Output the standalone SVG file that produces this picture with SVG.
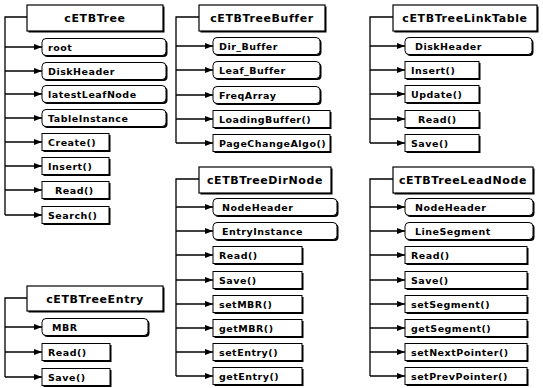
<svg xmlns="http://www.w3.org/2000/svg" width="543" height="388" viewBox="0 0 543 388">
<defs>
<marker id="ah" viewBox="0 0 8 6" refX="8" refY="3" markerWidth="8" markerHeight="6" markerUnits="userSpaceOnUse" orient="auto">
<path d="M0,0 L8,3 L0,6 Z" fill="#000"/>
</marker>
</defs>
<style>
.hd{fill:#fff;stroke:#000;stroke-width:1.2}
.hs{fill:#000}
.bx{fill:#fff;stroke:#000;stroke-width:1}
.sh{fill:#000}
.ht{font-family:"DejaVu Sans",sans-serif;font-weight:bold;font-size:11px;letter-spacing:0.6px;text-anchor:middle;fill:#000}
.ct{font-family:"DejaVu Sans",sans-serif;font-weight:bold;font-size:9.5px;letter-spacing:0.5px;fill:#000}
.cn{fill:none;stroke:#000;stroke-width:1.3}
.br{fill:none;stroke:#000;stroke-width:1.3;marker-end:url(#ah)}
</style>
<rect width="543" height="388" fill="#fff"/>
<g id="connectors">
<path class="cn" d="M27,17 H5 V215"/>
<path class="br" d="M5,47 H42"/><path class="br" d="M5,71 H42"/><path class="br" d="M5,94 H42"/><path class="br" d="M5,118 H42"/>
<path class="br" d="M5,142 H42"/><path class="br" d="M5,166 H42"/><path class="br" d="M5,190 H42"/><path class="br" d="M5,215 H42"/>
<path class="cn" d="M199,17 H176 V143"/>
<path class="br" d="M176,46 H213"/><path class="br" d="M176,70 H213"/><path class="br" d="M176,95 H213"/><path class="br" d="M176,119 H213"/><path class="br" d="M176,143 H213"/>
<path class="cn" d="M393,17 H370 V143"/>
<path class="br" d="M370,46 H405"/><path class="br" d="M370,70 H405"/><path class="br" d="M370,94 H405"/><path class="br" d="M370,119 H405"/><path class="br" d="M370,143 H405"/>
<path class="cn" d="M199,179 H176 V376"/>
<path class="br" d="M176,207 H213"/><path class="br" d="M176,231 H213"/><path class="br" d="M176,255 H213"/><path class="br" d="M176,280 H213"/>
<path class="br" d="M176,304 H213"/><path class="br" d="M176,328 H213"/><path class="br" d="M176,352 H213"/><path class="br" d="M176,376 H213"/>
<path class="cn" d="M393,179 H370 V376"/>
<path class="br" d="M370,207 H405"/><path class="br" d="M370,231 H405"/><path class="br" d="M370,255 H405"/><path class="br" d="M370,280 H405"/>
<path class="br" d="M370,304 H405"/><path class="br" d="M370,328 H405"/><path class="br" d="M370,352 H405"/><path class="br" d="M370,376 H405"/>
<path class="cn" d="M27,298 H5 V377"/>
<path class="br" d="M5,327 H42"/><path class="br" d="M5,352 H42"/><path class="br" d="M5,377 H42"/>
</g>
<g id="cETBTree">
<rect class="hs" x="28.5" y="6.5" width="136" height="26"/><rect class="hd" x="27" y="5" width="136" height="26"/>
<text class="ht" x="95" y="22">cETBTree</text>
</g>
<g id="cETBTree-root"><rect class="sh" x="43.5" y="40" width="124" height="17" rx="4"/><rect class="bx" x="42" y="38.5" width="124" height="17" rx="4"/><text class="ct" x="48" y="50.5">root</text></g>
<g id="cETBTree-DiskHeader"><rect class="sh" x="43.5" y="64" width="124" height="17" rx="4"/><rect class="bx" x="42" y="62.5" width="124" height="17" rx="4"/><text class="ct" x="48" y="74.5">DiskHeader</text></g>
<g id="cETBTree-latestLeafNode"><rect class="sh" x="43.5" y="87" width="124" height="17" rx="4"/><rect class="bx" x="42" y="85.5" width="124" height="17" rx="4"/><text class="ct" x="48" y="97.5">latestLeafNode</text></g>
<g id="cETBTree-TableInstance"><rect class="sh" x="43.5" y="111" width="124" height="17" rx="4"/><rect class="bx" x="42" y="109.5" width="124" height="17" rx="4"/><text class="ct" x="48" y="121.5">TableInstance</text></g>
<g id="cETBTree-Create"><rect class="sh" x="43.5" y="135" width="67" height="17"/><rect class="bx" x="42" y="133.5" width="67" height="17"/><text class="ct" x="48" y="145.5">Create()</text></g>
<g id="cETBTree-Insert"><rect class="sh" x="43.5" y="159" width="67" height="17"/><rect class="bx" x="42" y="157.5" width="67" height="17"/><text class="ct" x="48" y="169.5">Insert()</text></g>
<g id="cETBTree-Read"><rect class="sh" x="43.5" y="183" width="67" height="17"/><rect class="bx" x="42" y="181.5" width="67" height="17"/><text class="ct" x="55" y="193.5">Read()</text></g>
<g id="cETBTree-Search"><rect class="sh" x="43.5" y="208" width="67" height="17"/><rect class="bx" x="42" y="206.5" width="67" height="17"/><text class="ct" x="48" y="218.5">Search()</text></g>

<g id="cETBTreeBuffer">
<rect class="hs" x="200.5" y="6.5" width="126" height="26"/><rect class="hd" x="199" y="5" width="126" height="26"/>
<text class="ht" x="262" y="22">cETBTreeBuffer</text>
</g>
<g id="Buffer-Dir_Buffer"><rect class="sh" x="214.5" y="39" width="107" height="17" rx="4"/><rect class="bx" x="213" y="37.5" width="107" height="17" rx="4"/><text class="ct" x="219" y="49.5">Dir_Buffer</text></g>
<g id="Buffer-Leaf_Buffer"><rect class="sh" x="214.5" y="63" width="107" height="17" rx="4"/><rect class="bx" x="213" y="61.5" width="107" height="17" rx="4"/><text class="ct" x="219" y="73.5">Leaf_Buffer</text></g>
<g id="Buffer-FreqArray"><rect class="sh" x="214.5" y="88" width="107" height="17" rx="4"/><rect class="bx" x="213" y="86.5" width="107" height="17" rx="4"/><text class="ct" x="219" y="98.5">FreqArray</text></g>
<g id="Buffer-LoadingBuffer"><rect class="sh" x="214.5" y="112" width="117" height="17"/><rect class="bx" x="213" y="110.5" width="117" height="17"/><text class="ct" x="219" y="122.5">LoadingBuffer()</text></g>
<g id="Buffer-PageChangeAlgo"><rect class="sh" x="214.5" y="136" width="117" height="17"/><rect class="bx" x="213" y="134.5" width="117" height="17"/><text class="ct" x="219" y="146.5">PageChangeAlgo()</text></g>

<g id="cETBTreeLinkTable">
<rect class="hs" x="394.5" y="6.5" width="144" height="26"/><rect class="hd" x="393" y="5" width="144" height="26"/>
<text class="ht" x="465" y="22">cETBTreeLinkTable</text>
</g>
<g id="Link-DiskHeader"><rect class="sh" x="406.5" y="39" width="127" height="17" rx="4"/><rect class="bx" x="405" y="37.5" width="127" height="17" rx="4"/><text class="ct" x="415" y="49.5">DiskHeader</text></g>
<g id="Link-Insert"><rect class="sh" x="406.5" y="63" width="74" height="17"/><rect class="bx" x="405" y="61.5" width="74" height="17"/><text class="ct" x="411" y="73.5">Insert()</text></g>
<g id="Link-Update"><rect class="sh" x="406.5" y="87" width="74" height="17"/><rect class="bx" x="405" y="85.5" width="74" height="17"/><text class="ct" x="411" y="97.5">Update()</text></g>
<g id="Link-Read"><rect class="sh" x="406.5" y="112" width="74" height="17"/><rect class="bx" x="405" y="110.5" width="74" height="17"/><text class="ct" x="418" y="122.5">Read()</text></g>
<g id="Link-Save"><rect class="sh" x="406.5" y="136" width="74" height="17"/><rect class="bx" x="405" y="134.5" width="74" height="17"/><text class="ct" x="411" y="146.5">Save()</text></g>

<g id="cETBTreeDirNode">
<rect class="hs" x="200.5" y="168.5" width="132" height="26"/><rect class="hd" x="199" y="167" width="132" height="26"/>
<text class="ht" x="265" y="184">cETBTreeDirNode</text>
</g>
<g id="Dir-NodeHeader"><rect class="sh" x="214.5" y="200" width="124" height="17" rx="4"/><rect class="bx" x="213" y="198.5" width="124" height="17" rx="4"/><text class="ct" x="222" y="210.5">NodeHeader</text></g>
<g id="Dir-EntryInstance"><rect class="sh" x="214.5" y="224" width="124" height="17" rx="4"/><rect class="bx" x="213" y="222.5" width="124" height="17" rx="4"/><text class="ct" x="222" y="234.5">EntryInstance</text></g>
<g id="Dir-Read"><rect class="sh" x="214.5" y="248" width="89" height="17"/><rect class="bx" x="213" y="246.5" width="89" height="17"/><text class="ct" x="219" y="258.5">Read()</text></g>
<g id="Dir-Save"><rect class="sh" x="214.5" y="273" width="89" height="17"/><rect class="bx" x="213" y="271.5" width="89" height="17"/><text class="ct" x="219" y="283.5">Save()</text></g>
<g id="Dir-setMBR"><rect class="sh" x="214.5" y="297" width="89" height="17"/><rect class="bx" x="213" y="295.5" width="89" height="17"/><text class="ct" x="219" y="307.5">setMBR()</text></g>
<g id="Dir-getMBR"><rect class="sh" x="214.5" y="321" width="89" height="17"/><rect class="bx" x="213" y="319.5" width="89" height="17"/><text class="ct" x="219" y="331.5">getMBR()</text></g>
<g id="Dir-setEntry"><rect class="sh" x="214.5" y="345" width="89" height="17"/><rect class="bx" x="213" y="343.5" width="89" height="17"/><text class="ct" x="219" y="355.5">setEntry()</text></g>
<g id="Dir-getEntry"><rect class="sh" x="214.5" y="369" width="89" height="17"/><rect class="bx" x="213" y="367.5" width="89" height="17"/><text class="ct" x="219" y="379.5">getEntry()</text></g>

<g id="cETBTreeLeadNode">
<rect class="hs" x="394.5" y="168.5" width="140" height="26"/><rect class="hd" x="393" y="167" width="140" height="26"/>
<text class="ht" x="463" y="184">cETBTreeLeadNode</text>
</g>
<g id="Lead-NodeHeader"><rect class="sh" x="406.5" y="200" width="128" height="17" rx="4"/><rect class="bx" x="405" y="198.5" width="128" height="17" rx="4"/><text class="ct" x="415" y="210.5">NodeHeader</text></g>
<g id="Lead-LineSegment"><rect class="sh" x="406.5" y="224" width="128" height="17" rx="4"/><rect class="bx" x="405" y="222.5" width="128" height="17" rx="4"/><text class="ct" x="415" y="234.5">LineSegment</text></g>
<g id="Lead-Read"><rect class="sh" x="406.5" y="248" width="122" height="17"/><rect class="bx" x="405" y="246.5" width="122" height="17"/><text class="ct" x="411" y="258.5">Read()</text></g>
<g id="Lead-Save"><rect class="sh" x="406.5" y="273" width="122" height="17"/><rect class="bx" x="405" y="271.5" width="122" height="17"/><text class="ct" x="411" y="283.5">Save()</text></g>
<g id="Lead-setSegment"><rect class="sh" x="406.5" y="297" width="122" height="17"/><rect class="bx" x="405" y="295.5" width="122" height="17"/><text class="ct" x="411" y="307.5">setSegment()</text></g>
<g id="Lead-getSegment"><rect class="sh" x="406.5" y="321" width="122" height="17"/><rect class="bx" x="405" y="319.5" width="122" height="17"/><text class="ct" x="411" y="331.5">getSegment()</text></g>
<g id="Lead-setNextPointer"><rect class="sh" x="406.5" y="345" width="122" height="17"/><rect class="bx" x="405" y="343.5" width="122" height="17"/><text class="ct" x="411" y="355.5">setNextPointer()</text></g>
<g id="Lead-setPrevPointer"><rect class="sh" x="406.5" y="369" width="122" height="17"/><rect class="bx" x="405" y="367.5" width="122" height="17"/><text class="ct" x="411" y="379.5">setPrevPointer()</text></g>

<g id="cETBTreeEntry">
<rect class="hs" x="28.5" y="287.5" width="136" height="25"/><rect class="hd" x="27" y="286" width="136" height="25"/>
<text class="ht" x="95" y="302.5">cETBTreeEntry</text>
</g>
<g id="Entry-MBR"><rect class="sh" x="43.5" y="320" width="106" height="17" rx="4"/><rect class="bx" x="42" y="318.5" width="106" height="17" rx="4"/><text class="ct" x="52" y="330.5">MBR</text></g>
<g id="Entry-Read"><rect class="sh" x="43.5" y="345" width="68" height="17"/><rect class="bx" x="42" y="343.5" width="68" height="17"/><text class="ct" x="48" y="355.5">Read()</text></g>
<g id="Entry-Save"><rect class="sh" x="43.5" y="370" width="68" height="17"/><rect class="bx" x="42" y="368.5" width="68" height="17"/><text class="ct" x="48" y="380.5">Save()</text></g>
</svg>
